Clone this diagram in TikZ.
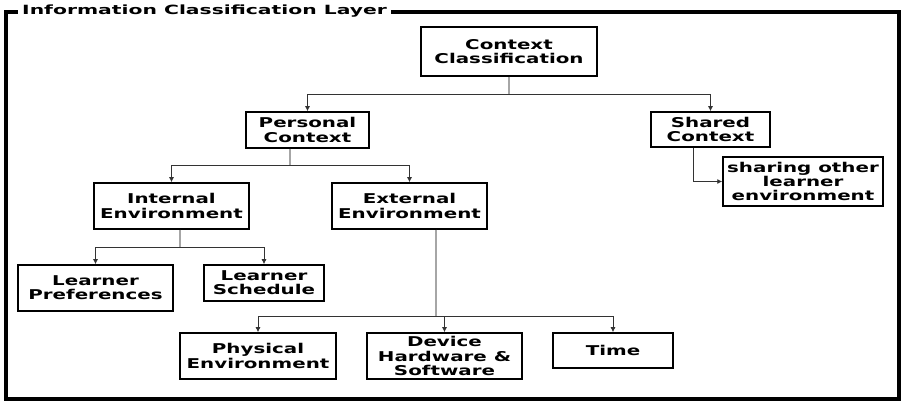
\documentclass[tikz,border=0pt]{standalone}
\usepackage{fontspec}
\setmainfont{DejaVu Sans}
\newfontfamily\labelfont{DejaVu Sans Bold}[FakeStretch=1.47]
\newfontfamily\titlefont{DejaVu Sans Bold}[FakeStretch=1.6]
\usetikzlibrary{arrows.meta, positioning}

\tikzset{
  box/.style={draw, line width=1.5pt, align=center, inner sep=0pt,
    font=\fontsize{13.5}{14.2}\labelfont},
  feed/.style={black!35, line width=1.5pt},
  bus/.style={black!80, line width=0.8pt, -{Latex[length=5pt,width=5pt]}}
}

\begin{document}
\begin{tikzpicture}[x=1pt, y=-1pt]
	\useasboundingbox (0,0) rectangle (905,403);
	% outer layer frame
	\draw[line width=3.5pt] (6,12) rectangle (899,399);
	\node[fill=white, inner ysep=2pt, inner xsep=4pt, anchor=west, font=\fontsize{12.7}{14}\titlefont] (layer) at (18,11) {Information Classification Layer};
	
	\node[box, minimum width=176pt, minimum height=49pt] (ctx) at (509,51.5) {Context\\Classification};
	\node[box, minimum width=123pt, minimum height=36pt] (pers) at (307.5,130) {Personal\\Context};
	\node[box, minimum width=119pt, minimum height=35pt] (shar) at (710.5,129.5) {Shared\\Context};
	\node[box, minimum width=160pt, minimum height=49pt] (other) at (803,181.5) {sharing other\\learner\\environment};
	\node[box, minimum width=155pt, minimum height=46pt] (int) at (171.5,206) {Internal\\Environment};
	\node[box, minimum width=155pt, minimum height=46pt] (ext) at (409.5,206) {External\\Environment};
	\node[box, minimum width=155pt, minimum height=46pt] (pref) at (95.5,288) {Learner\\Preferences};
	\node[box, minimum width=120pt, minimum height=36pt] (sched) at (264,283) {Learner\\Schedule};
	\node[box, minimum width=156pt, minimum height=46pt] (phys) at (258,356) {Physical\\Environment};
	\node[box, minimum width=155pt, minimum height=46pt] (dev) at (444.5,356) {Device\\Hardware \&\\Software};
	\node[box, minimum width=120pt, minimum height=35pt] (time) at (613,350.5) {Time};
	
	% branch points
	\coordinate (b0) at (509,94);
	\coordinate (b1) at (290,165);
	\coordinate (b2) at (180,247);
	\coordinate (b3) at (436,316);
	\coordinate (b4) at (693,160);
	
	\draw[feed] (ctx.south) -- (b0);
	\draw[bus] (b0) -| (pers.north);
	\draw[bus] (b0) -| (shar.north);
	
	\draw[feed] (b1 |- pers.south) -- (b1);
	\draw[bus] (b1) -| (int.north);
	\draw[bus] (b1) -| (ext.north);
	
	\draw[feed] (b2 |- int.south) -- (b2);
	\draw[bus] (b2) -| (pref.north);
	\draw[bus] (b2) -| (sched.north);
	
	\draw[feed] (b3 |- ext.south) -- (b3);
	\draw[bus] (b3) -| (phys.north);
	\draw[bus] (b3) -| (dev.north);
	\draw[bus] (b3) -| (time.north);
	
	\draw[bus] (b4 |- shar.south) |- (other.west);
\end{tikzpicture}
\end{document}
